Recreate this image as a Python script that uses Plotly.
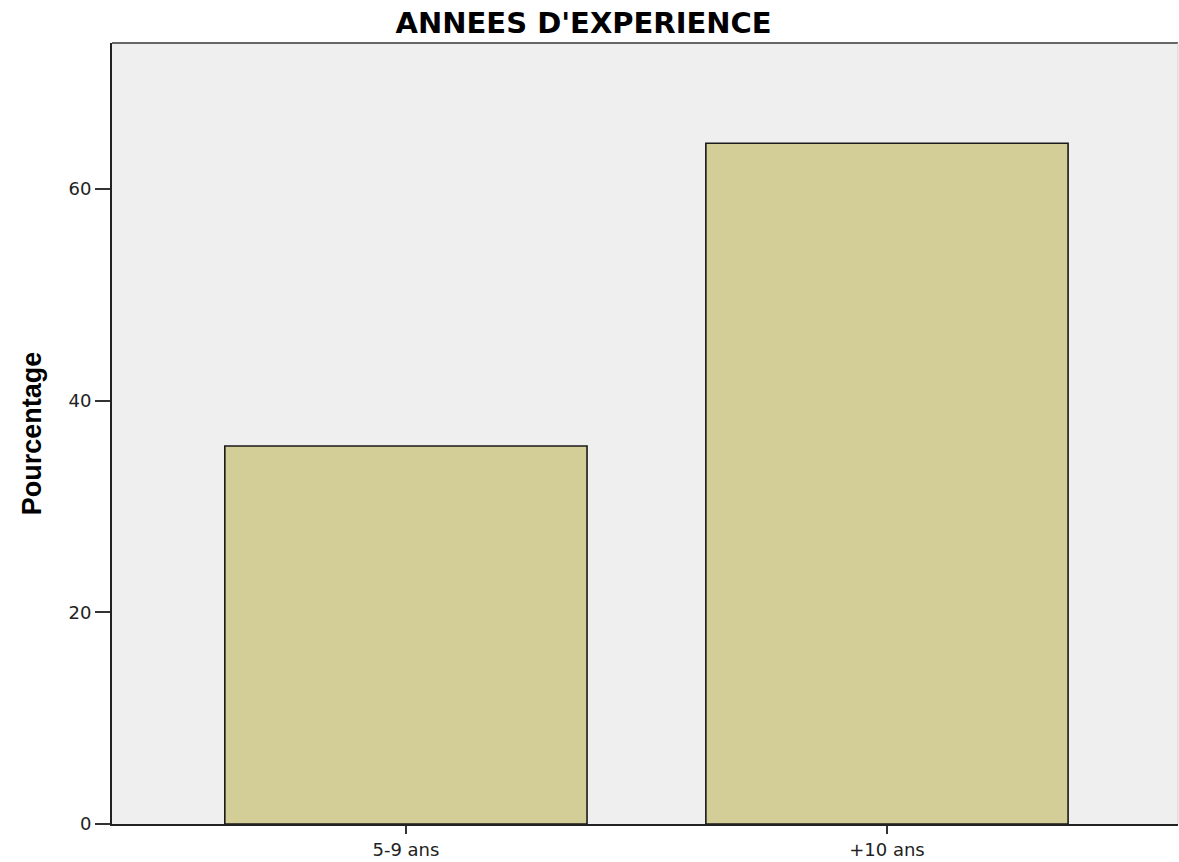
import plotly.graph_objects as go

categories = ["5-9 ans", "+10 ans"]
percentages = [35.7, 64.3]
y_ticks = [0, 20, 40, 60]

fig = go.Figure()
fig.add_trace(go.Bar(
    x=[0, 1], y=percentages, width=0.753,
    marker=dict(color="#D3CE97", line=dict(color="#1a1a1a", width=1.6)),
    hoverinfo="skip",
))

fig.update_layout(
    width=1179, height=862,
    margin=dict(l=112, r=1, t=43, b=38),
    paper_bgcolor="white", plot_bgcolor="#EFEFEF",
    showlegend=False,
    title=dict(text="<b>ANNEES D'EXPERIENCE</b>", x=0.495, xanchor="center",
               y=1 - 23 / 862, yanchor="middle",
               font=dict(family="DejaVu Sans", size=29, color="black")),
    font=dict(family="DejaVu Sans", size=18, color="#222"),
)
fig.update_xaxes(
    range=[-0.611, 1.605], tickvals=[0, 1], ticktext=categories,
    showgrid=False, zeroline=False, automargin=False,
    showline=True, linecolor="#222", linewidth=2,
    ticks="outside", ticklen=8, tickwidth=2, tickcolor="#333",
    tickfont=dict(family="DejaVu Sans", size=18, color="#222"),
)
fig.update_yaxes(
    range=[0, 73.77], tickvals=y_ticks,
    showgrid=False, zeroline=False, automargin=False,
    showline=True, linecolor="#222", linewidth=2,
    ticks="outside", ticklen=15, tickwidth=2, tickcolor="#333",
    tickfont=dict(family="DejaVu Sans", size=18, color="#222"),
    title=dict(text="<b>Pourcentage</b>",
               font=dict(family="Liberation Sans, Arial", size=27, color="black"),
               standoff=19),
)
# top and right frame lines
fig.add_shape(type="line", xref="paper", yref="paper", x0=0, x1=1, y0=1, y1=1,
              line=dict(color="#666", width=2))
fig.add_shape(type="line", xref="paper", yref="paper", x0=1, x1=1, y0=0, y1=1,
              line=dict(color="#cfcfcf", width=1))

fig.write_html("out.html")
